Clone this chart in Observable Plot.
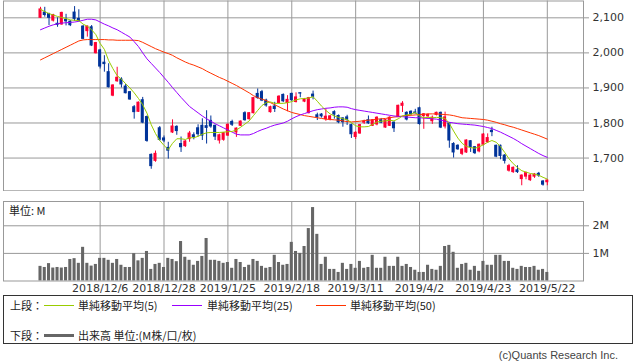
<!DOCTYPE html>
<html><head><meta charset="utf-8">
<script src="https://cdn.jsdelivr.net/npm/d3@7"></script>
<script src="https://cdn.jsdelivr.net/npm/@observablehq/plot@0.6"></script>
<style>
body{margin:0;background:#fff;}
#wrap{position:relative;width:638px;height:362px;overflow:hidden;background:#fff;font-family:"DejaVu Sans",sans-serif;}
#top{position:absolute;left:0;top:0;}
#vol{position:absolute;left:0;top:196px;}
.jp{font-family:"Noto Sans CJK JP",sans-serif;font-size:11px;color:#222;position:absolute;white-space:nowrap;line-height:14px;}
#legend{position:absolute;left:3px;top:295px;width:630px;height:49px;border:1px solid #333;box-sizing:border-box;}
.sw{position:absolute;height:1px;width:30px;}
#copy{position:absolute;right:20px;top:349px;font-family:"Liberation Sans",sans-serif;font-size:11px;color:#444;}
</style></head>
<body><div id="wrap">
<div id="top"></div>
<div id="vol"></div>
<div class="jp" style="left:9px;top:203px;">単位: M</div>
<div id="legend">
  <span class="jp" style="left:6px;top:2px;">上段：</span>
  <span class="sw" style="left:40px;top:9px;background:#99cc00"></span>
  <span class="jp" style="left:74px;top:2px;">単純移動平均(5)</span>
  <span class="sw" style="left:168px;top:9px;background:#9900ff"></span>
  <span class="jp" style="left:203px;top:2px;">単純移動平均(25)</span>
  <span class="sw" style="left:312px;top:9px;background:#ff3300"></span>
  <span class="jp" style="left:346px;top:2px;">単純移動平均(50)</span>
  <span class="jp" style="left:6px;top:32px;">下段：</span>
  <span class="sw" style="left:40px;top:38px;height:3px;background:#666"></span>
  <span class="jp" style="left:74px;top:32px;">出来高 単位:(M株/口/枚)</span>
</div>
<div id="copy">(c)Quants Research Inc.</div>
</div>
<script>
const open=[2100,2115,2111,2092,2083,2081,2094,2089,2115,2097,
2075,2062,2073,1999,2007,1972,1945,1878,1919,1924,
1904,1888,1845,1832,1865,1817,1709,1692,1785,1756,
1729,1773,1789,1740,1734,1754,1765,1785,1792,1791,
1806,1792,1750,1752,1764,1803,1773,1792,1828,1811,
1828,1883,1888,1864,1831,1847,1857,1880,1857,1883,
1860,1885,1861,1828,1881,1822,1824,1811,1811,1831,
1820,1813,1816,1794,1760,1770,1801,1808,1792,1796,
1808,1787,1792,1801,1817,1849,1829,1832,1830,1842,
1820,1819,1805,1823,1829,1790,1799,1740,1735,1712,
1716,1748,1731,1719,1738,1745,1778,1735,1735,1707,
1664,1660,1665,1640,1647,1637,1647,1655,1633,1631];
const high=[2130,2130,2113,2110,2100,2116,2110,2092,2132,2123,
2078,2077,2078,2030,2010,1992,1969,1909,1959,1929,
1910,1890,1850,1860,1873,1820,1712,1720,1790,1763,
1745,1809,1792,1760,1750,1776,1772,1795,1812,1835,
1820,1794,1768,1773,1797,1808,1786,1806,1832,1830,
1873,1897,1893,1868,1848,1859,1878,1883,1878,1885,
1886,1886,1870,1873,1891,1828,1827,1840,1821,1835,
1823,1815,1822,1797,1775,1796,1808,1820,1810,1818,
1813,1810,1818,1803,1851,1861,1832,1835,1839,1845,
1827,1826,1820,1831,1831,1831,1801,1744,1738,1727,
1752,1750,1733,1740,1770,1769,1788,1737,1737,1710,
1682,1675,1678,1652,1660,1653,1656,1659,1636,1638];
const low=[2098,2102,2078,2088,2073,2079,2077,2075,2090,2088,
2038,2045,2018,1997,1954,1945,1900,1875,1916,1900,
1883,1865,1811,1830,1798,1745,1668,1688,1748,1744,
1697,1770,1765,1716,1730,1745,1752,1760,1750,1740,
1785,1750,1740,1748,1762,1790,1759,1790,1805,1808,
1826,1868,1861,1845,1828,1830,1855,1858,1832,1862,
1857,1872,1858,1826,1866,1807,1814,1805,1806,1811,
1798,1788,1793,1756,1753,1768,1796,1796,1790,1792,
1798,1785,1790,1773,1815,1830,1806,1822,1825,1794,
1782,1816,1796,1820,1784,1783,1728,1700,1722,1707,
1713,1716,1710,1715,1735,1742,1761,1701,1695,1683,
1660,1656,1656,1621,1638,1633,1642,1645,1620,1621];
const close=[2124,2108,2100,2108,2080,2114,2090,2079,2097,2091,
2040,2075,2021,2028,1961,1968,1902,1907,1929,1910,
1885,1867,1831,1858,1801,1749,1677,1712,1752,1750,
1721,1790,1777,1731,1747,1770,1760,1768,1764,1786,
1790,1761,1765,1771,1795,1795,1784,1804,1808,1828,
1871,1871,1864,1850,1845,1840,1875,1862,1866,1865,
1873,1884,1866,1871,1875,1817,1819,1818,1819,1824,
1802,1802,1809,1768,1772,1794,1804,1799,1808,1815,
1801,1808,1815,1785,1849,1855,1810,1825,1828,1797,
1825,1823,1815,1829,1787,1816,1750,1716,1725,1724,
1750,1731,1714,1738,1767,1757,1774,1704,1706,1692,
1677,1672,1660,1650,1657,1650,1653,1650,1624,1636];
const volume=[0.53,0.49,0.63,0.47,0.49,0.47,0.49,0.78,0.81,0.64,
1.22,0.64,0.54,0.60,0.82,0.82,0.75,0.64,0.78,0.57,
0.49,0.49,0.99,0.73,0.82,1.07,0.42,0.60,0.64,0.49,
0.82,0.78,0.70,1.43,0.86,0.75,0.57,0.71,0.89,1.54,
0.75,0.75,0.71,0.64,0.67,0.46,0.78,0.67,0.49,0.57,
0.78,0.71,0.53,0.46,0.49,0.93,0.67,0.57,0.60,1.40,
1.07,1.00,1.25,1.90,2.66,1.69,0.60,0.86,0.42,0.42,
0.31,0.64,0.42,0.60,0.46,0.71,0.46,0.49,0.93,0.46,
0.46,0.86,0.53,0.53,0.86,0.53,0.60,0.49,0.39,0.31,
0.31,0.57,0.42,0.39,0.53,1.25,1.29,1.04,0.46,0.60,
0.64,0.39,0.53,0.35,0.71,0.57,0.57,0.93,0.93,0.71,
0.71,0.46,0.42,0.53,0.49,0.49,0.53,0.39,0.42,0.31];
const ma5=[2124,2118,2112,2108,2104,2101,2098,2094,2093,2092,
2082,2076,2066,2052,2027,2010,1978,1955,1935,1925,
1912,1900,1886,1870,1852,1828,1795,1770,1750,1736,
1724,1742,1755,1755,1753,1758,1758,1762,1768,1772,
1773,1773,1773,1774,1775,1776,1780,1788,1797,1806,
1821,1836,1850,1858,1860,1856,1856,1856,1858,1861,
1866,1869,1870,1871,1875,1862,1848,1836,1826,1820,
1816,1812,1810,1801,1792,1789,1789,1790,1796,1803,
1805,1806,1808,1806,1812,1820,1823,1825,1830,1820,
1815,1816,1815,1816,1815,1813,1799,1777,1757,1742,
1733,1730,1728,1732,1738,1745,1750,1745,1733,1716,
1698,1684,1673,1664,1660,1656,1654,1651,1645,1640];
const ma25=[2066,2071,2076,2080,2083,2085,2086,2087,2088,2090,
2093,2096,2096,2094,2088,2082,2077,2071,2066,2059,
2052,2045,2032,2018,2000,1983,1970,1957,1944,1930,
1916,1901,1887,1873,1860,1847,1838,1829,1820,1812,
1805,1798,1792,1786,1780,1774,1768,1766,1766,1766,
1770,1776,1781,1785,1790,1794,1797,1800,1805,1812,
1818,1823,1827,1831,1835,1838,1840,1842,1843,1845,
1846,1846,1845,1841,1838,1836,1834,1832,1830,1828,
1826,1824,1822,1820,1819,1818,1817,1816,1815,1815,
1814,1813,1812,1811,1808,1805,1802,1800,1798,1797,
1796,1795,1794,1792,1790,1787,1784,1779,1774,1768,
1762,1756,1749,1741,1734,1727,1720,1713,1707,1702];
const ma50=[1980,1986,1992,1998,2004,2010,2016,2022,2028,2034,
2037,2038,2038,2038,2038,2038,2037,2037,2036,2036,
2036,2036,2036,2035,2030,2024,2018,2012,2007,2002,
1998,1993,1986,1980,1974,1969,1965,1960,1955,1948,
1942,1936,1930,1925,1919,1913,1907,1900,1893,1886,
1878,1872,1868,1864,1858,1852,1846,1840,1835,1830,
1827,1824,1821,1819,1817,1815,1813,1811,1810,1809,
1808,1806,1804,1803,1804,1805,1807,1808,1809,1811,
1812,1813,1815,1817,1818,1820,1821,1822,1823,1824,
1825,1826,1826,1826,1825,1824,1823,1821,1818,1815,
1814,1813,1812,1811,1810,1808,1805,1802,1798,1795,
1791,1788,1784,1780,1776,1772,1768,1764,1759,1754];
const tickIndex=[14,29,44,59,74,89,104,119];
const tickLabels=["2018/12/6","2018/12/28","2019/1/25","2019/2/18","2019/3/11","2019/4/2","2019/4/23","2019/5/22"];
const priceTicks=[1700,1800,1900,2000,2100];
const volTicks=[1,2];

const UP="#ff0033", DOWN="#003399";
const idx=d3.range(close.length);
const candles=idx.map(i=>({i,o:open[i],h:high[i],l:low[i],c:close[i],col:close[i]>=open[i]?UP:DOWN}));
const xDomain=[-8.69,127.5];
const grid={stroke:"#999",strokeOpacity:1,strokeWidth:1};
const font={fontFamily:"DejaVu Sans",fontSize:"11px",color:"#333",background:"transparent"};

const topPlot=Plot.plot({
  width:638,height:191,marginTop:0.5,marginBottom:0.7,marginLeft:3,marginRight:55,
  x:{type:"linear",domain:xDomain,axis:null},
  y:{domain:[1606.6,2148],axis:null},
  style:font,
  marks:[
    Plot.gridY(priceTicks,grid),
    Plot.gridX(tickIndex,grid),
    Plot.frame({stroke:"#999"}),
    Plot.axisY(priceTicks,{anchor:"right",tickSize:5,tickPadding:4,stroke:"#999",fill:"#333",tickFormat:d3.format(",")}),
    Plot.ruleX(candles,{x:"i",y1:"l",y2:"h",stroke:"col",strokeWidth:1}),
    Plot.rect(candles,{x1:d=>d.i-0.36,x2:d=>d.i+0.36,y1:"o",y2:"c",fill:"col",insetTop:-0.5,insetBottom:-0.5}),
    Plot.line(idx,{x:i=>i,y:i=>ma50[i],stroke:"#ff3300",strokeWidth:1}),
    Plot.line(idx,{x:i=>i,y:i=>ma25[i],stroke:"#9900ff",strokeWidth:1}),
    Plot.line(idx,{x:i=>i,y:i=>ma5[i],stroke:"#99cc00",strokeWidth:1})
  ]
});
document.getElementById("top").append(topPlot);

const volPlot=Plot.plot({
  width:638,height:100,marginTop:5,marginBottom:15.5,marginLeft:3,marginRight:55,
  x:{type:"linear",domain:xDomain,axis:null},
  y:{domain:[0,2.88],axis:null},
  style:font,
  marks:[
    Plot.gridY(volTicks,grid),
    Plot.gridX(tickIndex,grid),
    Plot.rectY(idx,{x1:i=>i-0.36,x2:i=>i+0.36,y1:0,y2:i=>volume[i],fill:"#666"}),
    Plot.frame({stroke:"#999"}),
    Plot.axisY(volTicks,{anchor:"right",tickSize:5,tickPadding:4,stroke:"#999",fill:"#333",tickFormat:d=>d+"M"}),
    Plot.axisX(tickIndex,{anchor:"bottom",tickSize:0,tickPadding:3,fill:"#333",tickFormat:d=>tickLabels[tickIndex.indexOf(d)]})
  ]
});
document.getElementById("vol").append(volPlot);
</script>
</body></html>
